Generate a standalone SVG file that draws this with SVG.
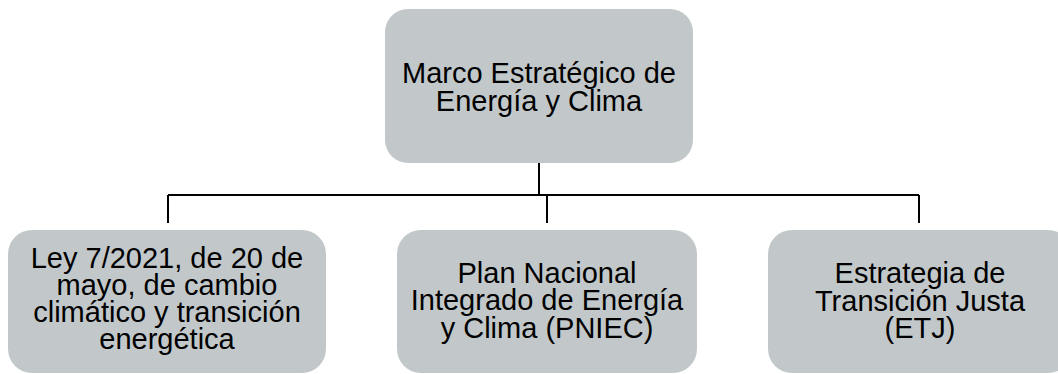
<svg xmlns="http://www.w3.org/2000/svg" width="1058" height="374" viewBox="0 0 1058 374">
<style>
.box{fill:#c2c8ca;stroke:none}
.t{font-family:"Liberation Sans",Arial,sans-serif;font-size:29px;fill:#000;text-anchor:middle}
.c{stroke:#000;stroke-width:2;fill:none}
</style>
<rect width="1058" height="374" fill="#ffffff"/>
<g id="connectors">
<path class="c" d="M539 163V195M168 195H919M168 195V223M547 195V223M919 195V223"/>
</g>
<g id="root">
<rect class="box" x="385" y="9" width="308" height="154" rx="23"/>
<text class="t" x="539" y="83">Marco Estratégico de</text>
<text class="t" x="539" y="110.5">Energía y Clima</text>
</g>
<g id="ley">
<rect class="box" x="8" y="230" width="318" height="143" rx="24"/>
<text class="t" x="167" y="268">Ley 7/2021, de 20 de</text>
<text class="t" x="167" y="295">mayo, de cambio</text>
<text class="t" x="167" y="322">climático y transición</text>
<text class="t" x="167" y="349">energética</text>
</g>
<g id="pniec">
<rect class="box" x="397" y="230" width="300" height="143" rx="24"/>
<text class="t" x="547" y="282.5">Plan Nacional</text>
<text class="t" x="547" y="310">Integrado de Energía</text>
<text class="t" x="547" y="337.5">y Clima (PNIEC)</text>
</g>
<g id="etj">
<rect class="box" x="768" y="230" width="304" height="143" rx="24"/>
<text class="t" x="920" y="283">Estrategia de</text>
<text class="t" x="920" y="310.5">Transición Justa</text>
<text class="t" x="920" y="338">(ETJ)</text>
</g>
</svg>
